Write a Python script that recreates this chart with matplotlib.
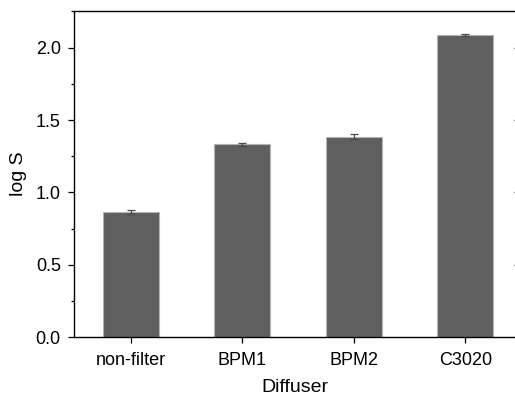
import matplotlib
matplotlib.use("Agg")
import matplotlib.pyplot as plt
from matplotlib.ticker import MultipleLocator

plt.rcParams['font.family'] = ['Liberation Sans', 'DejaVu Sans']

# data
categories = ["non-filter", "BPM1", "BPM2", "C3020"]
log_s = [0.867, 1.333, 1.385, 2.088]
log_s_err = [0.014, 0.011, 0.017, 0.009]

fig = plt.figure(figsize=(5.15, 3.98), dpi=100, facecolor='white')
ax = fig.add_axes([74 / 515, 1 - 337.3 / 398, (516.6 - 74) / 515, (337.3 - 11) / 398])

x = list(range(len(categories)))
ax.bar(x, log_s, width=0.5, color='#5f5f5f', edgecolor='#b4b4b4', linewidth=0.8,
       yerr=log_s_err, capsize=3, error_kw=dict(ecolor='#4a4a4a', elinewidth=0.9, capthick=0.9))

ax.set_xlim(-0.508, 3.46)
ax.set_ylim(0, 2.253)
ax.set_xticks(x)
ax.set_xticklabels(categories)
ax.yaxis.set_major_locator(MultipleLocator(0.5))
ax.yaxis.set_minor_locator(MultipleLocator(0.25))
ax.yaxis.set_major_formatter(matplotlib.ticker.FormatStrFormatter('%.1f'))

for s in ['left', 'bottom', 'top']:
    ax.spines[s].set_linewidth(1.0)
ax.spines['right'].set_visible(False)

ax.tick_params(axis='x', direction='out', length=4.5, width=0.9, labelsize=13, pad=6)
ax.tick_params(axis='y', which='major', direction='out', length=4.5, width=0.9,
               labelsize=13, pad=5, right=True)
ax.tick_params(axis='y', which='minor', direction='out', length=2.2, width=0.9)
# right-side ticks point inward and only major ones are shown
for t in ax.yaxis.get_major_ticks():
    t.tick2line.set_marker(matplotlib.lines.TICKLEFT)
    t.tick2line.set_markersize(2.5)

ax.set_xlabel("Diffuser", fontsize=14, labelpad=7)
ax.set_ylabel("log S", fontsize=14, labelpad=6)

fig.savefig("out.png", dpi=100, facecolor='white')
